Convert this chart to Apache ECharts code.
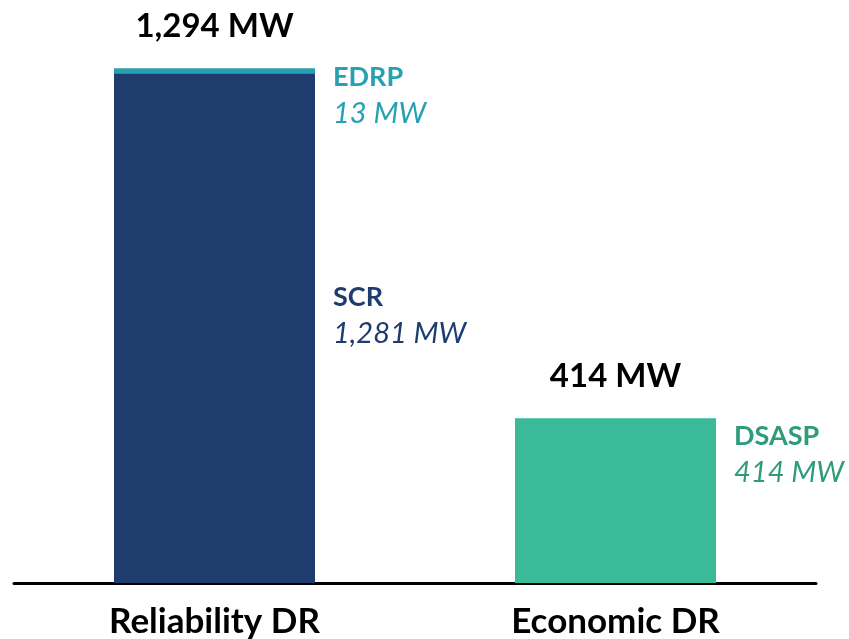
<!DOCTYPE html>
<html>
<head>
<meta charset="utf-8">
<script src="https://cdn.jsdelivr.net/npm/echarts@6/dist/echarts.min.js"></script>
<style>
  html, body { margin: 0; padding: 0; background: #ffffff; }
  #chart { width: 849px; height: 639px; }
</style>
</head>
<body>
<div id="chart"></div>
<script>
// Demand response enrollment by program type (MW)
const categories = ['Reliability DR', 'Economic DR'];
const scrValues = [1281, null];
const edrpValues = [13, null];
const dsaspValues = [null, 414];
const totalValues = [1294, 414];

const FONT = 'Lato';
const NAVY = '#1e3c6e';
const TEAL = '#27a0b1';
const GREEN = '#3aba98';
const GREEN_TEXT = '#2e9b7b';

function fmt(v) { return v.toLocaleString('en-US') + ' MW'; }

function sideLabel(name, color, position) {
  return {
    show: true,
    position: position,
    formatter: p => '{n|' + name + '}\n{v|' + fmt(p.value) + '}',
    rich: {
      n: { fontFamily: FONT, fontWeight: 'bold', fontSize: 27, color: color, lineHeight: 36 },
      v: { fontFamily: FONT, fontStyle: 'italic', fontSize: 29, color: color, lineHeight: 36 }
    }
  };
}

const chart = echarts.init(document.getElementById('chart'), null, { renderer: 'canvas' });
chart.setOption({
  animation: false,
  grid: { left: 14, right: 33, top: 26, bottom: 55, containLabel: false },
  xAxis: {
    type: 'category',
    data: categories,
    axisLine: { lineStyle: { color: '#000000', width: 3 } },
    axisTick: { show: false },
    axisLabel: { fontFamily: FONT, fontWeight: 'bold', fontSize: 35, color: '#000000', margin: 21 }
  },
  yAxis: {
    type: 'value', min: 0, max: 1400,
    show: false, splitLine: { show: false }
  },
  series: [
    {
      name: 'SCR', type: 'bar', stack: 'dr', barWidth: 201,
      data: scrValues,
      itemStyle: { color: NAVY },
      label: sideLabel('SCR', NAVY, [219, 206])
    },
    {
      name: 'EDRP', type: 'bar', stack: 'dr', barWidth: 201,
      data: edrpValues,
      itemStyle: { color: TEAL },
      label: sideLabel('EDRP', TEAL, [219, -9])
    },
    {
      name: 'DSASP', type: 'bar', stack: 'dr', barWidth: 201,
      data: dsaspValues,
      itemStyle: { color: GREEN },
      label: sideLabel('DSASP', GREEN_TEXT, [219, 0])
    },
    {
      name: 'Total', type: 'bar', barWidth: 201, barGap: '-100%', z: 1,
      data: totalValues,
      itemStyle: { color: 'rgba(0,0,0,0)' },
      label: {
        show: true, position: 'top', distance: 25,
        formatter: p => fmt(p.value),
        fontFamily: FONT, fontWeight: 'bold', fontSize: 33, color: '#000000'
      }
    }
  ]
});
</script>
</body>
</html>
